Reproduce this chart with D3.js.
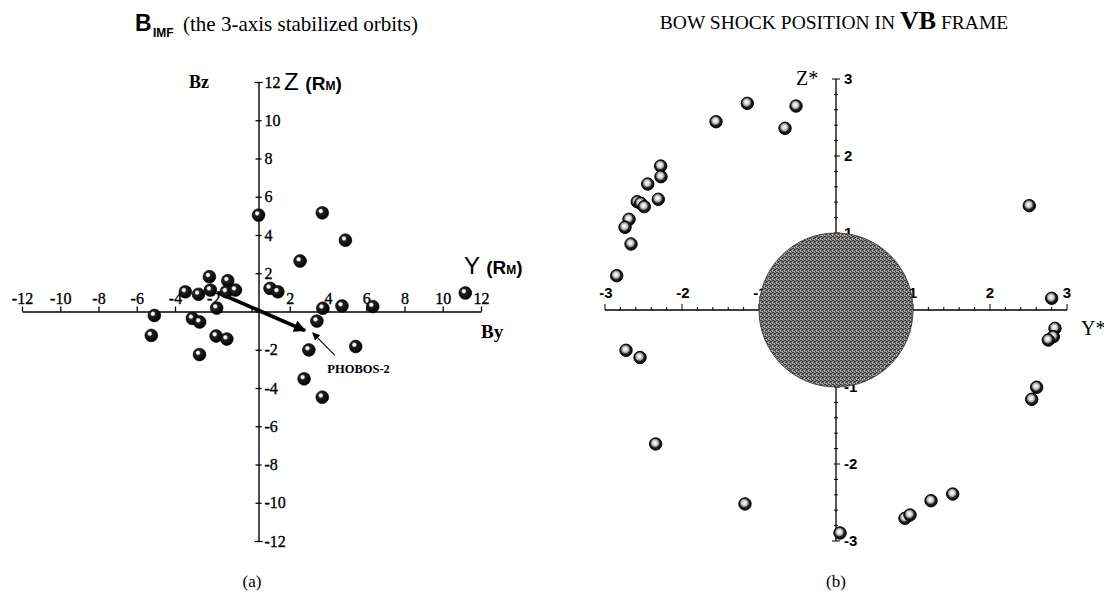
<!DOCTYPE html>
<html>
<head>
<meta charset="utf-8">
<script src="https://cdn.jsdelivr.net/npm/d3@7/dist/d3.min.js"></script>
<style>
  html, body { margin: 0; padding: 0; background: #fff; }
  svg { display: block; }
  .serif { font-family: "Liberation Serif", "Times New Roman", serif; }
  .sans { font-family: "Liberation Sans", Arial, sans-serif; }
</style>
</head>
<body>
<svg id="fig" width="1104" height="608"></svg>
<script>
// ---- Panel (a): IMF direction, By / Bz in R_M ----
const imfY = [-2.20, -1.24, -3.46, -2.77, -2.15, -1.32, -0.84, -1.82, -5.08, -3.09,
              -2.71, -5.24, -1.85, -1.29, -2.72, 2.54, 0.97, 1.38, 3.73, 4.73,
              6.34, 11.18, 3.42, 3.00, 5.45, 2.75, 3.70, 0.37, 3.70, 4.91];
const imfZ = [1.82, 1.61, 1.03, 0.90, 1.12, 1.03, 1.12, 0.18, -0.21, -0.36,
              -0.55, -1.25, -1.28, -1.44, -2.25, 2.64, 1.21, 1.03, 0.17, 0.29,
              0.26, 0.97, -0.50, -2.01, -1.83, -3.52, -4.48, 5.04, 5.16, 3.73];
const ticksA = [-12, -10, -8, -6, -4, -2, 0, 2, 4, 6, 8, 10, 12];
// PHOBOS-2 direction arrow (start, end) and pointer arrow (tail, head)
const phobosArrow = [[-1.8, 1.0], [2.8, -1.0]];
const phobosPointer = [[4.35, -2.28], [3.2, -1.12]];
const phobosLabel = [5.6, -3.2];

// ---- Panel (b): bow shock crossings in the VB frame ----
const shockY = [-1.152, -0.519, -1.558, -0.662, -2.277, -2.273, -2.445, -2.308, -2.581, -2.536,
                -2.490, -2.688, -2.740, -2.662, -2.848, -2.727, -2.545, -2.342, -1.182, 0.052,
                0.896, 0.961, 1.234, 1.516, 2.542, 2.606, 2.510, 2.801, 2.844, 2.822, 2.757];
const shockZ = [2.684, 2.649, 2.445, 2.360, 1.870, 1.731, 1.636, 1.438, 1.406, 1.386,
                1.342, 1.178, 1.074, 0.857, 0.445, -0.523, -0.617, -1.740, -2.519, -2.896,
                -2.705, -2.662, -2.477, -2.390, -1.160, -1.004, 1.355, 0.152, -0.238, -0.347, -0.390];
const ticksB = [-3, -2, -1, 1, 2, 3];
const planetRadius = 1;

const svg = d3.select("#fig");
const defs = svg.append("defs");

// shaded balls
const gA = defs.append("radialGradient").attr("id", "ballA")
  .attr("cx", "0.4").attr("cy", "0.38").attr("r", "0.62").attr("fx", "0.38").attr("fy", "0.36");
[["0", "#ffffff"], ["0.18", "#f4f4f4"], ["0.34", "#222"], ["1", "#000"]]
  .forEach(([o, c]) => gA.append("stop").attr("offset", o).attr("stop-color", c));
const gB = defs.append("radialGradient").attr("id", "ballB")
  .attr("cx", "0.46").attr("cy", "0.44").attr("r", "0.58").attr("fx", "0.44").attr("fy", "0.4");
[["0", "#ffffff"], ["0.28", "#e2e2e2"], ["0.5", "#9a9a9a"], ["0.64", "#262626"], ["1", "#000"]]
  .forEach(([o, c]) => gB.append("stop").attr("offset", o).attr("stop-color", c));

// halftone texture for the planet disc
const pat = defs.append("pattern").attr("id", "halftone")
  .attr("patternUnits", "userSpaceOnUse").attr("width", 4).attr("height", 4);
pat.append("rect").attr("width", 4).attr("height", 4).attr("fill", "#8c8c8c");
[[0, 0], [2, 1], [1, 2], [3, 3], [3, 1], [1, 0], [2, 2]].forEach(([x, y]) =>
  pat.append("rect").attr("x", x).attr("y", y).attr("width", 1).attr("height", 1).attr("fill", "#3a3a3a"));
[[2, 3], [0, 2]].forEach(([x, y]) =>
  pat.append("rect").attr("x", x).attr("y", y).attr("width", 1).attr("height", 1).attr("fill", "#c8c8c8"));

// arrowheads
defs.append("marker").attr("id", "headThick").attr("viewBox", "0 0 10 10")
  .attr("refX", 9).attr("refY", 5).attr("markerWidth", 4.2).attr("markerHeight", 3.2)
  .attr("orient", "auto").attr("markerUnits", "strokeWidth")
  .append("path").attr("d", "M0,0 L10,5 L0,10 z").attr("fill", "#000");
defs.append("marker").attr("id", "headThin").attr("viewBox", "0 0 10 10")
  .attr("refX", 9).attr("refY", 5).attr("markerWidth", 9).attr("markerHeight", 7)
  .attr("orient", "auto").attr("markerUnits", "strokeWidth")
  .append("path").attr("d", "M0,0 L10,5 L0,10 z").attr("fill", "#000");

// ================= Panel (a) =================
const xA = d3.scaleLinear().domain([-12, 12]).range([22, 481]);
const yA = d3.scaleLinear().domain([-12, 12]).range([541, 82]);
const vAxisX = xA(0) + 7;   // vertical axis sits a little right of Y = 0
const pa = svg.append("g");
const fmtA = d => d === 0 ? "" : String(d);

// horizontal axis with upward ticks
const hAxis = pa.append("g").attr("transform", `translate(0,${yA(0)})`)
  .call(d3.axisTop(xA).tickValues(ticksA).tickSize(5).tickSizeOuter(0).tickFormat(fmtA));
hAxis.selectAll(".tick text").attr("y", -8).attr("dy", 0);

// vertical axis with crossing ticks
const vAxis = pa.append("g").attr("transform", `translate(${vAxisX},0)`)
  .call(d3.axisRight(yA).tickValues(ticksA).tickSize(3).tickSizeOuter(0).tickFormat(fmtA));
vAxis.selectAll(".tick line").attr("x1", d => Math.abs(d) === 12 ? -4 : -3)
  .attr("x2", d => Math.abs(d) === 12 ? 4 : 3);
vAxis.selectAll(".tick text").attr("x", 6);

[hAxis, vAxis].forEach(ax => {
  ax.attr("font-family", null).attr("font-size", null);
  ax.select(".domain").attr("stroke", "#000").attr("stroke-width", 1.4).attr("fill", "none");
  ax.selectAll(".tick line").attr("stroke", "#000").attr("stroke-width", 1.3);
  ax.selectAll(".tick text").attr("class", "serif").attr("font-size", 16)
    .attr("fill", "#000").attr("stroke", "#000").attr("stroke-width", 0.35);
});

// PHOBOS-2 direction
pa.append("line")
  .attr("x1", xA(phobosArrow[0][0])).attr("y1", yA(phobosArrow[0][1]))
  .attr("x2", xA(phobosArrow[1][0])).attr("y2", yA(phobosArrow[1][1]))
  .attr("stroke", "#000").attr("stroke-width", 3.8).attr("marker-end", "url(#headThick)");
pa.append("line")
  .attr("x1", xA(phobosPointer[0][0])).attr("y1", yA(phobosPointer[0][1]))
  .attr("x2", xA(phobosPointer[1][0])).attr("y2", yA(phobosPointer[1][1]))
  .attr("stroke", "#000").attr("stroke-width", 1.1).attr("marker-end", "url(#headThin)");
pa.append("text").attr("class", "serif").attr("font-size", 12.5).attr("font-weight", "bold")
  .attr("text-anchor", "middle").attr("x", xA(phobosLabel[0])).attr("y", yA(phobosLabel[1]))
  .text("PHOBOS-2");

// data balls
pa.append("g").selectAll("circle").data(d3.range(imfY.length)).join("circle")
  .attr("cx", i => xA(imfY[i])).attr("cy", i => yA(imfZ[i])).attr("r", 6.4)
  .attr("fill", "url(#ballA)").attr("stroke", "#000").attr("stroke-width", 0.6);

// labels
const tA = svg.append("text").attr("y", 31);
tA.append("tspan").attr("class", "sans").attr("x", 135).attr("font-size", 23).attr("font-weight", "bold").text("B");
tA.append("tspan").attr("class", "sans").attr("x", 153).attr("dy", 6).attr("font-size", 12).attr("font-weight", "bold").text("IMF");
tA.append("tspan").attr("class", "serif").attr("x", 183).attr("dy", -6).attr("font-size", 21).text("(the 3-axis stabilized orbits)");

svg.append("text").attr("class", "serif").attr("x", 189).attr("y", 88)
  .attr("font-size", 18).attr("font-weight", "bold").text("Bz");
svg.append("text").attr("class", "serif").attr("x", 481).attr("y", 338)
  .attr("font-size", 19).attr("font-weight", "bold").text("By");

function rmLabel(x, y, letter) {
  const t = svg.append("text").attr("class", "sans").attr("x", x).attr("y", y);
  t.append("tspan").attr("font-size", 24).text(letter + " ");
  t.append("tspan").attr("font-size", 19).attr("font-weight", "bold").text("(R");
  t.append("tspan").attr("font-size", 12).attr("font-weight", "bold").text("M");
  t.append("tspan").attr("font-size", 19).attr("font-weight", "bold").text(")");
}
rmLabel(284, 90, "Z");
rmLabel(464, 274, "Y");

svg.append("text").attr("class", "serif").attr("x", 252).attr("y", 587)
  .attr("text-anchor", "middle").attr("font-size", 17).text("(a)");

// ================= Panel (b) =================
const xB = d3.scaleLinear().domain([-3, 3]).range([605, 1067]);
const yB = d3.scaleLinear().domain([-3, 3]).range([541, 79]);
const pb = svg.append("g");
const minorB = d3.range(-15, 16).map(k => k / 5);
const isMajor = d => Math.abs(d - Math.round(d)) < 1e-6;

// horizontal axis: upward ticks every 0.2
pb.append("line").attr("x1", xB(-3)).attr("x2", xB(3)).attr("y1", yB(0)).attr("y2", yB(0))
  .attr("stroke", "#000").attr("stroke-width", 1.3);
pb.append("g").selectAll("line").data(minorB).join("line")
  .attr("x1", d => xB(d)).attr("x2", d => xB(d)).attr("y1", yB(0))
  .attr("y2", d => yB(0) - (isMajor(d) ? 6 : 3))
  .attr("stroke", "#000").attr("stroke-width", 1);
pb.append("g").selectAll("text").data(ticksB).join("text")
  .attr("class", "sans").attr("font-size", 15).attr("font-weight", "bold")
  .attr("text-anchor", "middle").attr("x", d => xB(d) + (d < 0 ? 1 : 0)).attr("y", yB(0) - 12)
  .text(d => d);

// vertical axis: crossing ticks every 0.2
pb.append("line").attr("x1", xB(0)).attr("x2", xB(0)).attr("y1", yB(3)).attr("y2", yB(-3))
  .attr("stroke", "#000").attr("stroke-width", 1.3);
pb.append("g").selectAll("line").data(minorB).join("line")
  .attr("y1", d => yB(d)).attr("y2", d => yB(d))
  .attr("x1", d => xB(0) - (Math.abs(d) === 3 ? 4 : 2))
  .attr("x2", d => xB(0) + (isMajor(d) ? 4 : 2))
  .attr("stroke", "#000").attr("stroke-width", 1);
pb.append("g").selectAll("text").data(ticksB).join("text")
  .attr("class", "sans").attr("font-size", 15).attr("font-weight", "bold")
  .attr("x", xB(0) + 8).attr("y", d => yB(d) + 5)
  .text(d => d);

// planet disc
pb.append("circle").attr("cx", xB(0)).attr("cy", yB(0))
  .attr("r", xB(planetRadius) - xB(0))
  .attr("fill", "url(#halftone)").attr("stroke", "#444").attr("stroke-width", 1);

// bow-shock crossings
pb.append("g").selectAll("circle").data(d3.range(shockY.length)).join("circle")
  .attr("cx", i => xB(shockY[i])).attr("cy", i => yB(shockZ[i])).attr("r", 6.2)
  .attr("fill", "url(#ballB)").attr("stroke", "#000").attr("stroke-width", 1);

// titles and axis names
const tB = svg.append("text").attr("class", "serif").attr("x", 834).attr("y", 29)
  .attr("text-anchor", "middle");
tB.append("tspan").attr("font-size", 19.5).text("BOW SHOCK POSITION IN ");
tB.append("tspan").attr("font-size", 26).attr("font-weight", "bold").text("VB");
tB.append("tspan").attr("font-size", 19.5).text(" FRAME");

svg.append("text").attr("class", "serif").attr("x", 796).attr("y", 85)
  .attr("font-size", 20).text("Z*");
svg.append("text").attr("class", "serif").attr("x", 1081).attr("y", 335)
  .attr("font-size", 20).text("Y*");
svg.append("text").attr("class", "serif").attr("x", 836).attr("y", 587)
  .attr("text-anchor", "middle").attr("font-size", 17).text("(b)");
</script>
</body>
</html>
